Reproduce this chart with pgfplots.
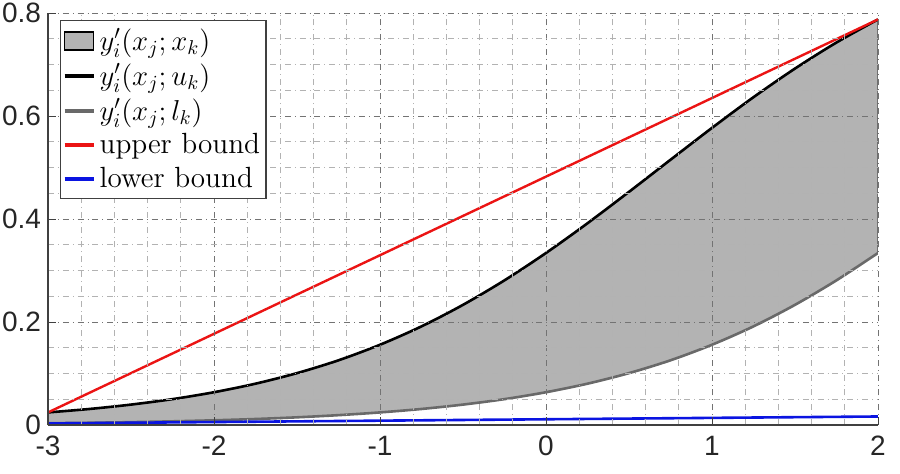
\documentclass[border=0pt]{standalone}
\usepackage{fontspec}
\setsansfont{Liberation Sans}
\usepackage{pgfplots}
\pgfplotsset{compat=1.18}
\usepgfplotslibrary{fillbetween}

\definecolor{fillgray}{RGB}{179,179,179}
\definecolor{lowgray}{RGB}{105,105,105}
\definecolor{ubred}{RGB}{235,20,20}
\definecolor{lbblue}{RGB}{10,20,225}
\definecolor{ticktext}{RGB}{38,38,38}

\begin{document}
\begin{tikzpicture}
\begin{axis}[
  name=ax,
  scale only axis,
  width=415pt, height=206pt,
  xmin=-3, xmax=2, ymin=0, ymax=0.8,
  xtick={-3,-2,-1,0,1,2},
  ytick={0,0.2,0.4,0.6,0.8},
  minor x tick num=4,
  minor y tick num=3,
  axis x line*=bottom,
  axis y line*=left,
  axis line style={black!75, line width=0.6pt},
  set layers=axis on top,
  tick align=inside,
  major tick length=4pt,
  minor tick length=0pt,
  tick style={black!75},
  grid=both,
  major grid style={black!55, dash dot, line width=0.4pt},
  minor grid style={black!30, dash dot, line width=0.4pt},
  /pgf/number format/assume math mode=true,
  tick label style={font=\sffamily\fontsize{14}{16}\selectfont, text=ticktext},
  xticklabel style={yshift=-2pt},
  legend style={at={(0.0145,0.983)}, anchor=north west,
    draw=black!75, line width=0.6pt, fill=white,
    inner xsep=1pt, inner ysep=2pt, row sep=1.2pt,
    font=\fontsize{14.6}{17.5}\selectfont},
  legend cell align=left,
  legend image code/.code={\draw[#1, line width=2pt] (0pt,0pt) -- (14.5pt,0pt);},
]

\addplot[draw=none, name path=U, forget plot, smooth] coordinates {
(-3,0.0244) (-2.75,0.0311) (-2.5,0.0396) (-2.25,0.0502) (-2,0.0636)
(-1.75,0.0802) (-1.5,0.1007) (-1.25,0.1256) (-1,0.1558) (-0.75,0.1915)
(-0.5,0.2333) (-0.25,0.2809) (0,0.3340) (0.25,0.3917) (0.5,0.4527)
(0.75,0.5150) (1,0.5769) (1.25,0.6365) (1.5,0.6921) (1.75,0.7427) (2,0.7875)
};
\addplot[draw=none, name path=L, forget plot, smooth] coordinates {
(-3,0.0034) (-2.75,0.0043) (-2.5,0.0055) (-2.25,0.0071) (-2,0.0091)
(-1.75,0.0116) (-1.5,0.0149) (-1.25,0.0191) (-1,0.0244) (-0.75,0.0311)
(-0.5,0.0396) (-0.25,0.0502) (0,0.0636) (0.25,0.0802) (0.5,0.1007)
(0.75,0.1256) (1,0.1558) (1.25,0.1915) (1.5,0.2333) (1.75,0.2809) (2,0.3340)
};
\addplot[fill=fillgray, draw=black!70, line width=0.5pt,
  legend image code/.code={\draw[fill=fillgray, draw=black, line width=0.6pt] (0pt,-4.5pt) rectangle (14.5pt,4.5pt);}]
  fill between[of=U and L];
\addlegendentry{$y_i'(x_j;x_k)$}

\addplot[black, line width=1.3pt, smooth] coordinates {
(-3,0.0244) (-2.75,0.0311) (-2.5,0.0396) (-2.25,0.0502) (-2,0.0636)
(-1.75,0.0802) (-1.5,0.1007) (-1.25,0.1256) (-1,0.1558) (-0.75,0.1915)
(-0.5,0.2333) (-0.25,0.2809) (0,0.3340) (0.25,0.3917) (0.5,0.4527)
(0.75,0.5150) (1,0.5769) (1.25,0.6365) (1.5,0.6921) (1.75,0.7427) (2,0.7875)
};
\addlegendentry{$y_i'(x_j;u_k)$}

\addplot[lowgray, line width=1.3pt, smooth] coordinates {
(-3,0.0034) (-2.75,0.0043) (-2.5,0.0055) (-2.25,0.0071) (-2,0.0091)
(-1.75,0.0116) (-1.5,0.0149) (-1.25,0.0191) (-1,0.0244) (-0.75,0.0311)
(-0.5,0.0396) (-0.25,0.0502) (0,0.0636) (0.25,0.0802) (0.5,0.1007)
(0.75,0.1256) (1,0.1558) (1.25,0.1915) (1.5,0.2333) (1.75,0.2809) (2,0.3340)
};
\addlegendentry{$y_i'(x_j;l_k)$}

\addplot[ubred, line width=1.2pt] coordinates {(-3,0.0244) (2,0.7875)};
\addlegendentry{upper bound}

\addplot[lbblue, line width=1.3pt] coordinates {(-3,0.0030) (2,0.0165)};
\addlegendentry{lower bound}

\end{axis}
\pgfresetboundingbox
\path[use as bounding box] (-24pt,-24.5pt) rectangle (426pt,212.5pt);
\end{tikzpicture}
\end{document}
